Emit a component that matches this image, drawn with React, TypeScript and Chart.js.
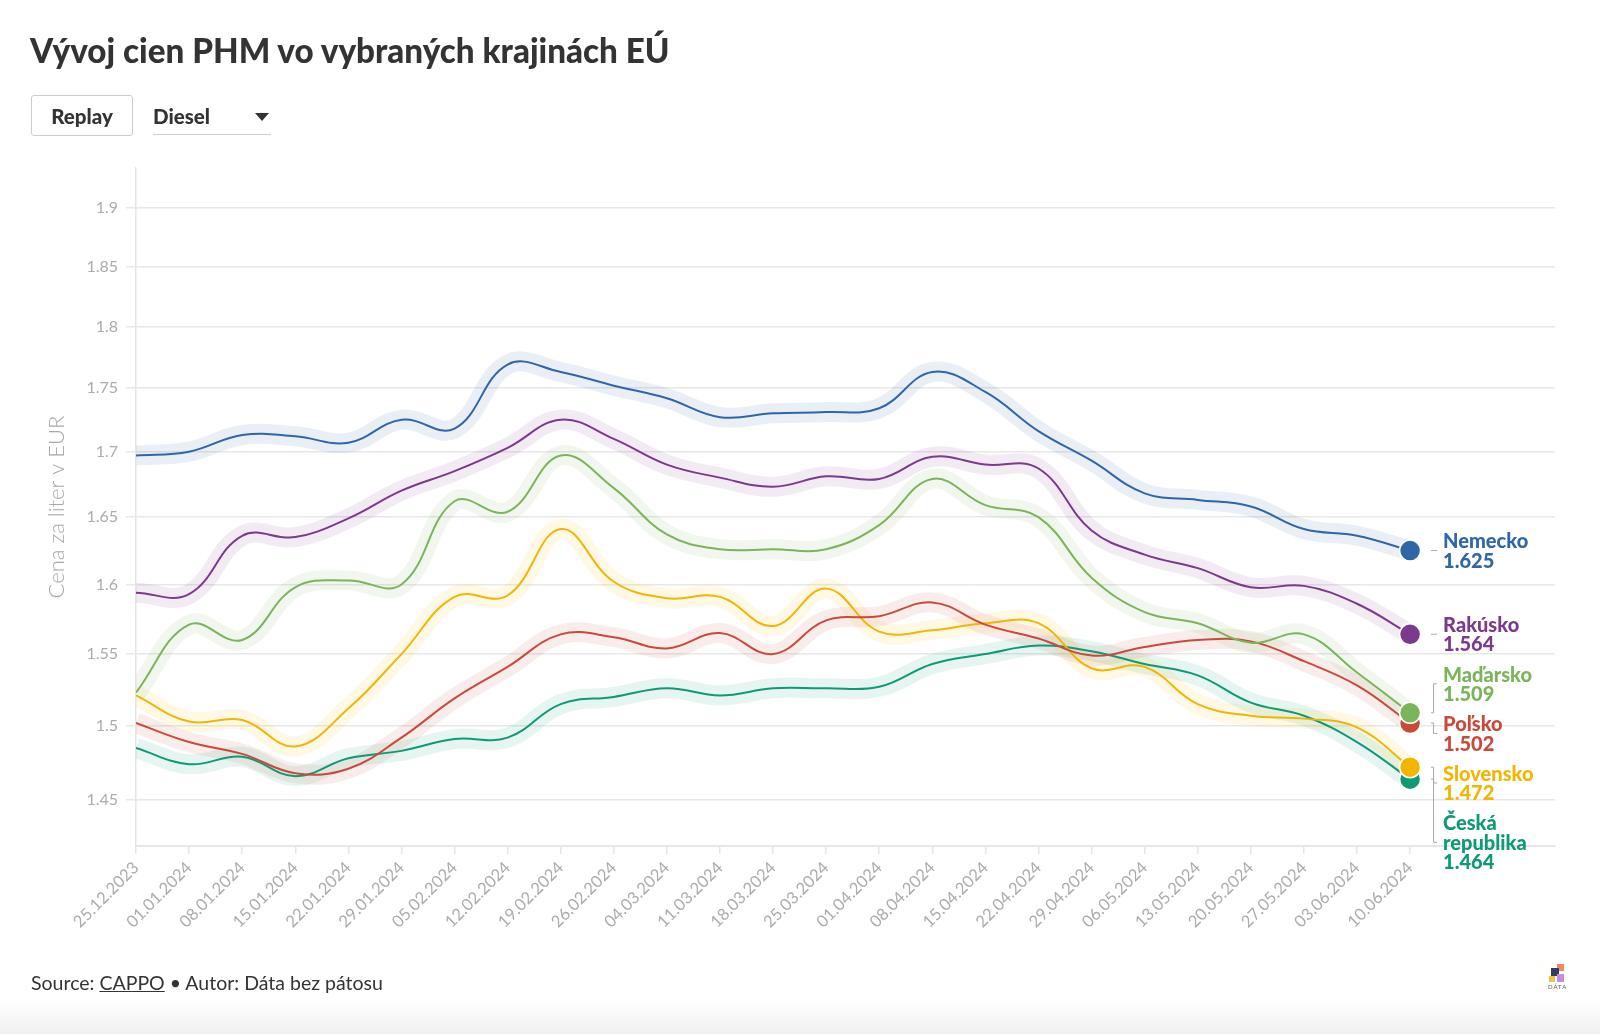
import React, { useEffect, useRef } from 'react';
import { Chart, registerables } from 'chart.js';

Chart.register(...registerables);

// ---------- data ----------
const dates = [
  '25.12.2023', '01.01.2024', '08.01.2024', '15.01.2024', '22.01.2024', '29.01.2024',
  '05.02.2024', '12.02.2024', '19.02.2024', '26.02.2024', '04.03.2024', '11.03.2024',
  '18.03.2024', '25.03.2024', '01.04.2024', '08.04.2024', '15.04.2024', '22.04.2024',
  '29.04.2024', '06.05.2024', '13.05.2024', '20.05.2024', '27.05.2024', '03.06.2024',
  '10.06.2024',
];

const countries = ['Nemecko', 'Rakúsko', 'Maďarsko', 'Poľsko', 'Slovensko', 'Česká republika'];
const labelLines = [['Nemecko'], ['Rakúsko'], ['Maďarsko'], ['Poľsko'], ['Slovensko'], ['Česká', 'republika']];

const nemecko = [1.697, 1.700, 1.713, 1.712, 1.707, 1.725, 1.718, 1.769, 1.763, 1.752, 1.742, 1.727, 1.730,
  1.731, 1.734, 1.763, 1.747, 1.716, 1.693, 1.668, 1.663, 1.658, 1.641, 1.636, 1.625];
const rakusko = [1.594, 1.593, 1.636, 1.635, 1.649, 1.670, 1.685, 1.703, 1.725, 1.710, 1.690, 1.680, 1.673,
  1.681, 1.679, 1.696, 1.690, 1.687, 1.640, 1.622, 1.612, 1.598, 1.599, 1.586, 1.564];
const madarsko = [1.523, 1.571, 1.560, 1.598, 1.603, 1.600, 1.662, 1.654, 1.697, 1.672, 1.637, 1.626, 1.626,
  1.626, 1.644, 1.679, 1.659, 1.650, 1.605, 1.580, 1.572, 1.558, 1.564, 1.537, 1.509];
const polsko = [1.502, 1.489, 1.481, 1.468, 1.471, 1.492, 1.519, 1.541, 1.564, 1.562, 1.554, 1.565, 1.550,
  1.574, 1.577, 1.587, 1.571, 1.561, 1.549, 1.555, 1.560, 1.559, 1.545, 1.528, 1.502];
const slovensko = [1.521, 1.503, 1.504, 1.486, 1.512, 1.550, 1.591, 1.592, 1.641, 1.602, 1.590, 1.591, 1.570,
  1.597, 1.566, 1.567, 1.572, 1.572, 1.540, 1.541, 1.515, 1.507, 1.505, 1.499, 1.472];
const ceska = [1.485, 1.474, 1.479, 1.466, 1.478, 1.483, 1.491, 1.492, 1.515, 1.520, 1.526, 1.521, 1.526,
  1.526, 1.527, 1.543, 1.550, 1.556, 1.552, 1.543, 1.535, 1.516, 1.507, 1.489, 1.464];

const seriesValues = [nemecko, rakusko, madarsko, polsko, slovensko, ceska];
const colors = ['#2f66a8', '#7b3a8c', '#7ab55a', '#c94a3b', '#f2b600', '#0e9a76'];

const yTicks = [1.45, 1.5, 1.55, 1.6, 1.65, 1.7, 1.75, 1.8, 1.85, 1.9];
const yMin = 1.4206;
const yMax = 1.935;
const xMax = 26.73;

const FONT = 'Lato, "Noto Sans", sans-serif';

function hexToRgba(hex: string, a: number) {
  const n = parseInt(hex.slice(1), 16);
  return `rgba(${(n >> 16) & 255},${(n >> 8) & 255},${n & 255},${a})`;
}

const endLabelsPlugin = {
  id: 'endLabels',
  afterDatasetsDraw(chart: any) {
    const { ctx, scales, chartArea } = chart;
    const x = scales.x;
    const y = scales.y;
    const last = dates.length - 1;
    const LH = 19.4;
    const GAP = 10.8;
    const items = seriesValues
      .map((vals, i) => {
        const v = vals[last];
        const lines = [...labelLines[i], v.toFixed(3)];
        const h = lines.length * LH;
        const dotY = y.getPixelForValue(v);
        return { i, lines, h, dotY, top: dotY - h / 2 };
      })
      .sort((a, b) => a.dotY - b.dotY);
    for (let k = 1; k < items.length; k++) {
      const prev = items[k - 1];
      const minTop = prev.top + prev.h + GAP;
      if (items[k].top < minTop) items[k].top = minTop;
    }
    let limit = chartArea.bottom + 25.4;
    for (let k = items.length - 1; k >= 0; k--) {
      const it = items[k];
      if (it.top + it.h > limit) it.top = limit - it.h;
      limit = it.top - GAP;
    }
    const dotX = x.getPixelForValue(last);
    const cx0 = dotX + 21;
    const cxm = dotX + 23.5;
    const cx1 = dotX + 27;
    const tx = dotX + 33;
    ctx.save();
    ctx.strokeStyle = '#a8a8a8';
    ctx.lineWidth = 1;
    items.forEach((it) => {
      const labelY = it.top + it.h / 2;
      ctx.beginPath();
      ctx.moveTo(cx0, it.dotY);
      ctx.lineTo(cxm, it.dotY);
      ctx.lineTo(cxm, labelY);
      ctx.lineTo(cx1, labelY);
      ctx.stroke();
      ctx.font = `900 20px ${FONT}`;
      ctx.fillStyle = colors[it.i];
      ctx.textAlign = 'left';
      ctx.textBaseline = 'middle';
      it.lines.forEach((line, j) => {
        ctx.fillText(line, tx, it.top + LH / 2 + j * LH + 1);
      });
    });
    // y axis title
    ctx.translate(57, (chartArea.top + chartArea.bottom) / 2);
    ctx.rotate(-Math.PI / 2);
    ctx.font = `300 22px ${FONT}`;
    ctx.fillStyle = '#a8a8a8';
    ctx.textAlign = 'center';
    ctx.textBaseline = 'middle';
    ctx.fillText('Cena za liter v EUR', 0, 0);
    ctx.restore();
  },
};

function ChartCanvas() {
  const ref = useRef<HTMLCanvasElement | null>(null);
  useEffect(() => {
    if (!ref.current) return;
    const last = dates.length - 1;
    const halos = seriesValues.map((vals, i) => ({
      label: countries[i] + ' halo',
      data: vals.map((v, k) => ({ x: k, y: v })),
      borderColor: hexToRgba(colors[i], 0.1),
      borderWidth: 20,
      pointRadius: 0,
      tension: 0.4,
      borderJoinStyle: 'round',
      fill: false,
      order: 10 + i,
    }));
    const lines = seriesValues.map((vals, i) => ({
      label: countries[i],
      data: vals.map((v, k) => ({ x: k, y: v })),
      borderColor: colors[i],
      borderWidth: 2,
      tension: 0.4,
      fill: false,
      pointRadius: (c: any) => (c.dataIndex === last ? 10.5 : 0),
      pointBackgroundColor: colors[i],
      pointBorderColor: '#ffffff',
      pointBorderWidth: 1.5,
      order: i,
    }));
    const chart = new Chart(ref.current, {
      type: 'line',
      data: { datasets: [...halos, ...lines] as any },
      options: {
        animation: false,
        responsive: false,
        devicePixelRatio: 1,
        events: [],
        layout: { padding: { left: 36, right: 45, top: 168, bottom: 88 } },
        plugins: { legend: { display: false }, tooltip: { enabled: false }, title: { display: false } },
        scales: {
          x: {
            type: 'linear',
            min: 0,
            max: xMax,
            afterBuildTicks: (axis: any) => {
              axis.ticks = dates.map((_, k) => ({ value: k }));
            },
            afterFit: (axis: any) => {
              axis.height = 100;
            },
            ticks: {
              autoSkip: false,
              maxRotation: 45,
              minRotation: 45,
              padding: 4,
              color: '#ababab',
              font: { family: FONT, size: 16.5 },
              callback: (v: any) => dates[Math.round(Number(v))] ?? '',
            },
            grid: { drawOnChartArea: false, drawTicks: true, tickLength: 8, color: '#e6e6e6', lineWidth: 1.5 },
            border: { display: true, color: '#e6e6e6', width: 2 },
          },
          y: {
            type: 'logarithmic',
            min: yMin,
            max: yMax,
            afterBuildTicks: (axis: any) => {
              axis.ticks = yTicks.map((v) => ({ value: v }));
            },
            afterFit: (axis: any) => {
              axis.width = 100;
            },
            ticks: {
              padding: 8,
              color: '#ababab',
              font: { family: FONT, size: 16 },
              callback: (v: any) => String(v),
            },
            grid: { drawOnChartArea: true, drawTicks: true, tickLength: 10, color: '#e8e8e8', lineWidth: 1.5 },
            border: { display: true, color: '#e6e6e6', width: 1.5 },
          },
        },
      } as any,
      plugins: [endLabelsPlugin],
    });
    return () => chart.destroy();
  }, []);
  return (
    <canvas
      ref={ref}
      width={1600}
      height={1034}
      style={{ position: 'absolute', left: 0, top: 0, width: 1600, height: 1034 }}
    />
  );
}

export default function App() {
  useEffect(() => {
    document.body.style.margin = '0';
  }, []);
  const text = '#333333';
  return (
    <div
      style={{
        position: 'relative',
        width: 1600,
        height: 1034,
        overflow: 'hidden',
        background: '#ffffff',
        fontFamily: FONT,
        color: text,
      }}
    >
      <ChartCanvas />
      <div
        style={{
          position: 'absolute',
          left: 30,
          top: 30,
          fontSize: 33.2,
          lineHeight: '40px',
          fontWeight: 900,
          whiteSpace: 'nowrap',
        }}
      >
        Vývoj cien PHM vo vybraných krajinách EÚ
      </div>
      <div
        style={{
          position: 'absolute',
          left: 31,
          top: 95,
          width: 100,
          height: 39,
          border: '1px solid #cccccc',
          borderRadius: 3,
          display: 'flex',
          alignItems: 'center',
          justifyContent: 'center',
          fontSize: 20.5,
          fontWeight: 900,
          boxSizing: 'content-box',
        }}
      >
        Replay
      </div>
      <div
        style={{
          position: 'absolute',
          left: 153,
          top: 100,
          width: 118,
          height: 34,
          borderBottom: '1px solid #cccccc',
        }}
      >
        <div style={{ position: 'absolute', left: 0, top: 0, fontSize: 20.5, fontWeight: 900, lineHeight: '32px' }}>
          Diesel
        </div>
        <div
          style={{
            position: 'absolute',
            left: 102,
            top: 13,
            width: 0,
            height: 0,
            borderLeft: '7px solid transparent',
            borderRight: '7px solid transparent',
            borderTop: '8px solid #333333',
          }}
        />
      </div>
      <div
        style={{
          position: 'absolute',
          left: 31,
          top: 971,
          fontSize: 19.5,
          lineHeight: '24px',
          whiteSpace: 'nowrap',
        }}
      >
        Source: <span style={{ textDecoration: 'underline' }}>CAPPO</span> • Autor: Dáta bez pátosu
      </div>
      <div
        style={{
          position: 'absolute',
          left: 0,
          top: 1000,
          width: 1600,
          height: 34,
          background: 'linear-gradient(to bottom, rgba(0,0,0,0), rgba(0,0,0,0.06))',
        }}
      />
      <div style={{ position: 'absolute', left: 1548, top: 964, width: 24, height: 30 }}>
        <div style={{ position: 'absolute', left: 9, top: 0, width: 7, height: 7, background: '#f08a5d' }} />
        <div style={{ position: 'absolute', left: 3, top: 4, width: 8, height: 8, background: '#2e3f63' }} />
        <div style={{ position: 'absolute', left: 1, top: 12, width: 6, height: 6, background: '#f5c542' }} />
        <div style={{ position: 'absolute', left: 9, top: 10, width: 7, height: 8, background: '#c58be0' }} />
        <div
          style={{
            position: 'absolute',
            left: 0,
            top: 20,
            fontSize: 6,
            lineHeight: '6px',
            letterSpacing: 1,
            color: '#555',
          }}
        >
          DÁTA
        </div>
      </div>
    </div>
  );
}
